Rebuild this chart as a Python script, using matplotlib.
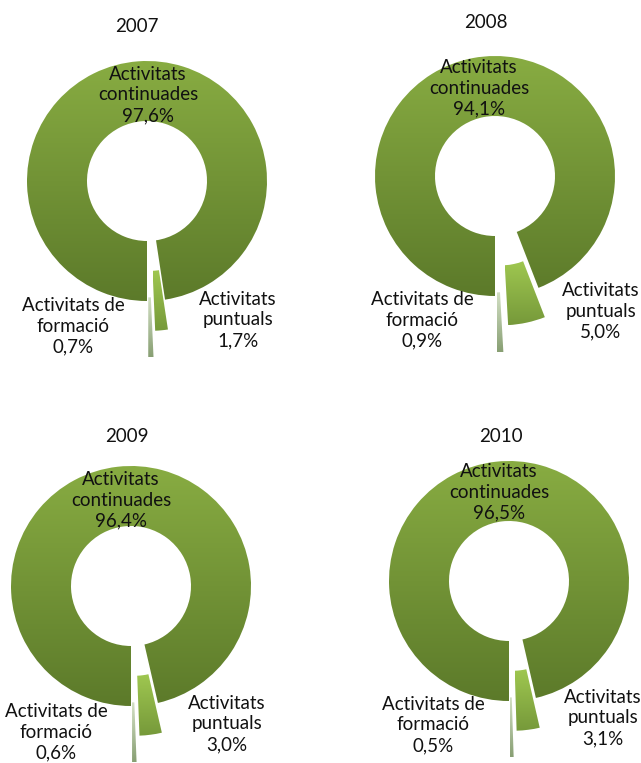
import numpy as np
import matplotlib
matplotlib.use("Agg")
import matplotlib.pyplot as plt
from matplotlib.colors import LinearSegmentedColormap

years = ["2007", "2008", "2009", "2010"]
categories = ["Activitats\ncontinuades", "Activitats\npuntuals", "Activitats de\nformació"]
continuades = [97.6, 94.1, 96.4, 96.5]
puntuals = [1.7, 5.0, 3.0, 3.1]
formacio = [0.7, 0.9, 0.6, 0.5]

W, H = 641, 763
R = 120
HOLE = 60
# explode distance as a fraction of the radius
EXPLODE = [0.0, 0.25, 0.47]

# ring centres (pixel coords, y from top)
centers = [(147, 181), (495, 176), (131, 586), (509, 581)]
title_pos = [(137, 27), (486, 22), (127, 437), (501, 437)]
label_pos = [
    [(148, 95), (238, 320), (73, 326)],
    [(479, 88), (601, 311), (422, 320)],
    [(121, 500), (227, 724), (56, 732)],
    [(499, 492), (603, 718), (433, 725)],
]
# (top, bottom) gradient colours per slice
grads = [("#88ac42", "#5c7a2a"), ("#9fc750", "#76993a"), ("#d4e1c6", "#889f73")]

plt.rcParams["font.family"] = ["Lato", "DejaVu Sans"]

fig = plt.figure(figsize=(W / 100, H / 100), dpi=100)
ax = fig.add_axes([0, 0, 1, 1])

ramp = np.linspace(0, 1, 256).reshape(-1, 1)


def fmt(v):
    return f"{v:.1f}".replace(".", ",") + "%"


for i, year in enumerate(years):
    vals = [continuades[i], puntuals[i], formacio[i]]
    cx, cy = centers[i]
    wedges, _ = ax.pie(vals, center=(cx, H - cy), radius=R,
                       startangle=-90, counterclock=False,
                       explode=[e * R for e in EXPLODE],
                       wedgeprops=dict(width=HOLE, linewidth=0))
    for w, (top, bot) in zip(wedges, grads):
        w.set_facecolor("none")
        bb = w.get_path().get_extents(w.get_patch_transform())
        cmap = LinearSegmentedColormap.from_list("g", [top, bot])
        im = ax.imshow(ramp, cmap=cmap, origin="upper", aspect="auto",
                       extent=(bb.x0, bb.x1, bb.y0, bb.y1), zorder=1)
        im.set_clip_path(w)

    tx, ty = title_pos[i]
    ax.text(tx, H - ty, year, ha="center", va="center", fontsize=13.5, color="#111111")
    for (lx, ly), name, v in zip(label_pos[i], categories, vals):
        ax.text(lx, H - ly, f"{name}\n{fmt(v)}", ha="center", va="center",
                fontsize=13.5, linespacing=1.28, color="#111111", zorder=3)

ax.set_xlim(0, W)
ax.set_ylim(0, H)
ax.set_aspect("equal")
ax.axis("off")

fig.savefig("out.png", dpi=100, facecolor="white")
